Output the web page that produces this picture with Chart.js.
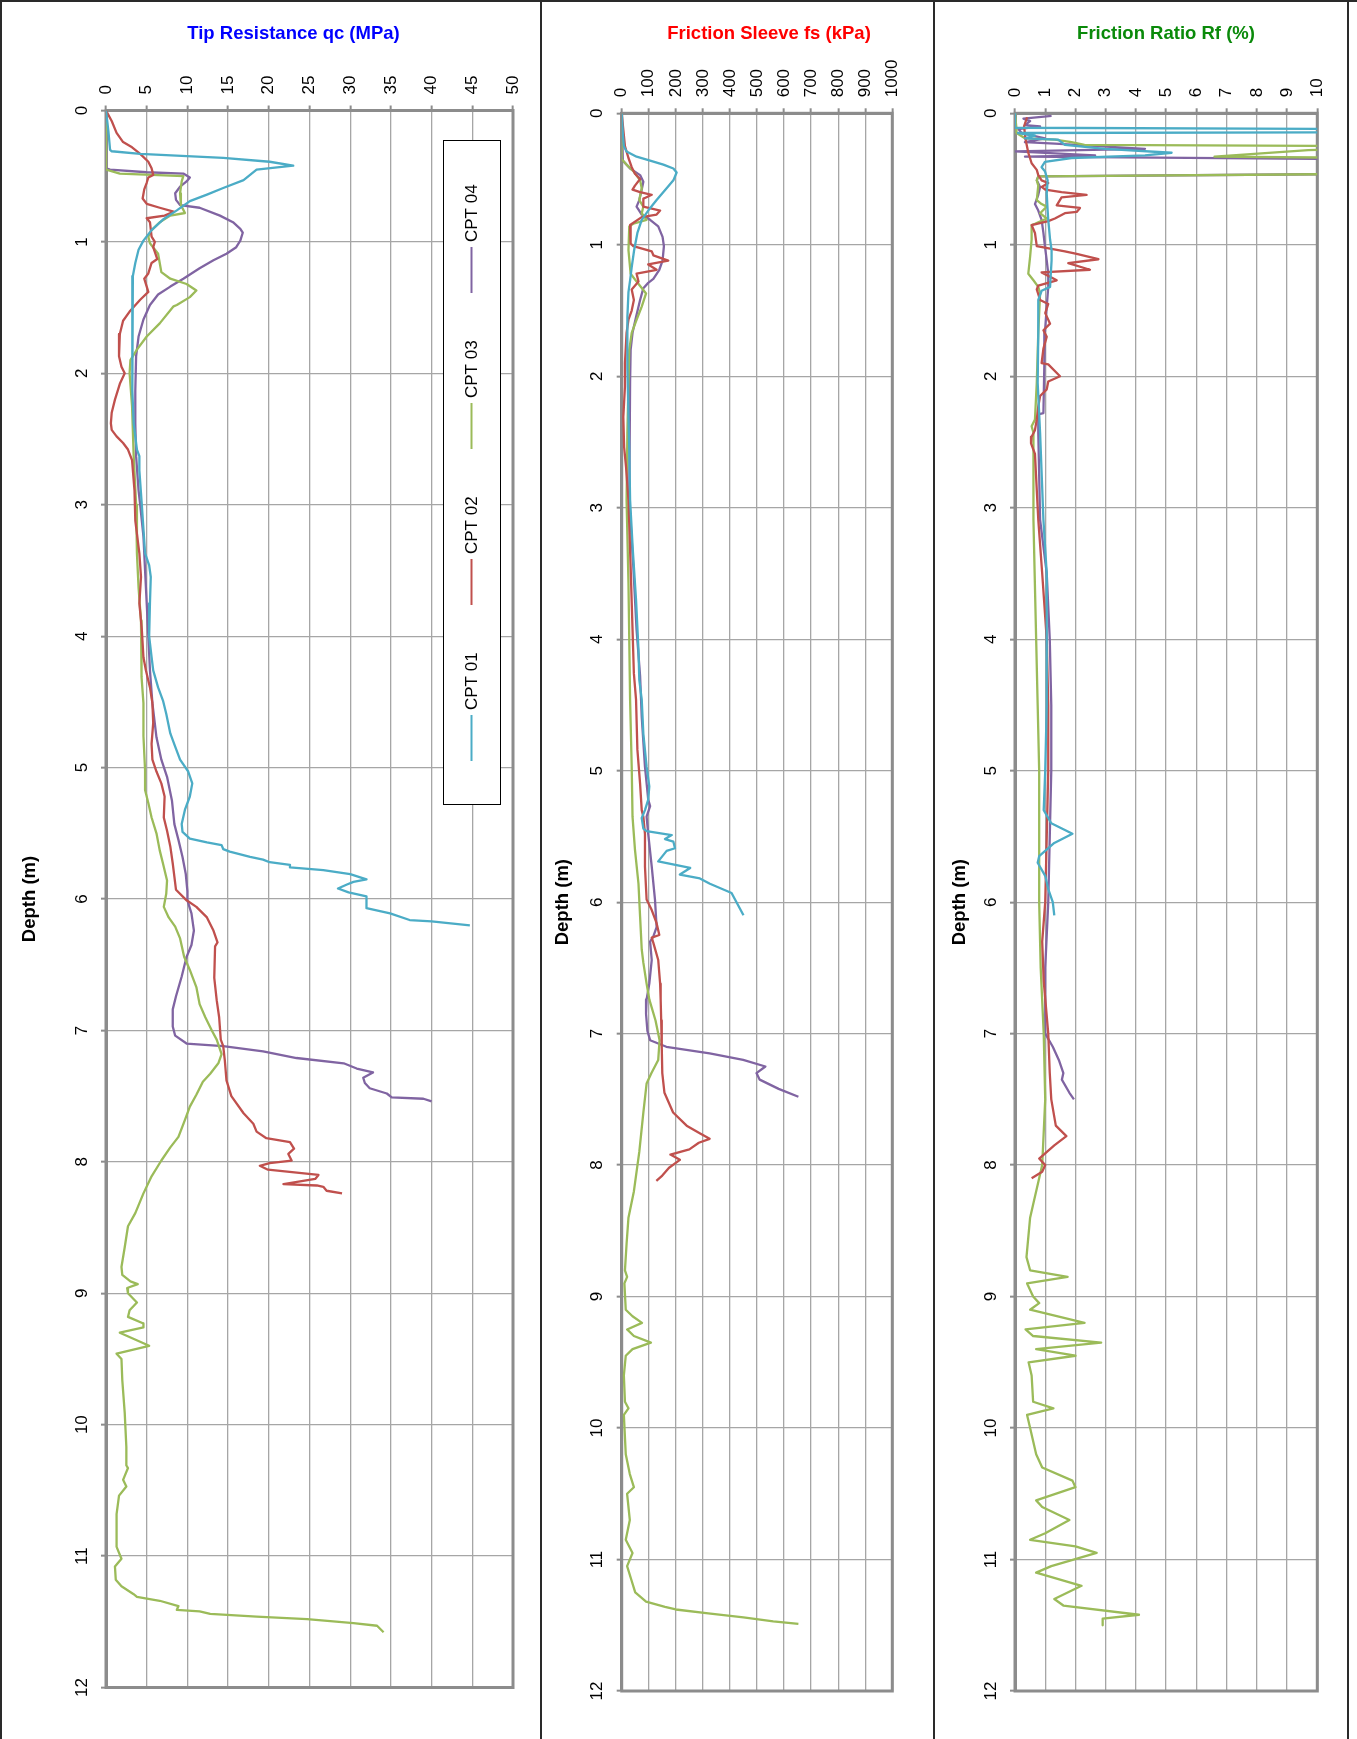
<!DOCTYPE html>
<html>
<head>
<meta charset="utf-8">
<title>CPT profiles</title>
<script src="https://cdn.jsdelivr.net/npm/chart.js@4.4.1/dist/chart.umd.min.js"></script>
<style>
  html, body { margin: 0; padding: 0; background: #fff; overflow: hidden; }
  #page { position: relative; width: 1357px; height: 1739px; overflow: hidden; background: #fff; }
  #page canvas { position: absolute; top: 0; }
  .rule { position: absolute; background: #2a2a2a; z-index: 5; }
</style>
</head>
<body>
<div id="page">
  <canvas id="qcChart"></canvas>
  <canvas id="fsChart"></canvas>
  <canvas id="rfChart"></canvas>
  <div class="rule" style="left:0;top:0;width:1357px;height:2px"></div>
  <div class="rule" style="left:0;top:0;width:2px;height:1739px"></div>
  <div class="rule" style="left:540px;top:0;width:2px;height:1739px"></div>
  <div class="rule" style="left:933px;top:0;width:2px;height:1739px"></div>
  <div class="rule" style="left:1347px;top:0;width:2px;height:1739px"></div>
</div>
<script>
// ---- data: [depth (m), value] pairs ----
const seriesNames = ['CPT 01', 'CPT 02', 'CPT 03', 'CPT 04'];
const seriesColors = ['#4bacc6', '#c0504d', '#9bbb59', '#8064a2'];

const depthTicks = [0, 1, 2, 3, 4, 5, 6, 7, 8, 9, 10, 11, 12];
const qcTicks = [0, 5, 10, 15, 20, 25, 30, 35, 40, 45, 50];
const fsTicks = [0, 100, 200, 300, 400, 500, 600, 700, 800, 900, 1000];
const rfTicks = [0, 1, 2, 3, 4, 5, 6, 7, 8, 9, 10];

// tip resistance qc (MPa)
const qc01 = [[0,0],[0.16,0.3],[0.3,0.5],[0.31,0.7],[0.33,4.2],[0.36,14.4],[0.39,20.1],[0.42,23.0],[0.45,18.5],[0.53,16.9],[0.59,14.4],[0.64,12.4],[0.69,10.3],[0.76,8.7],[0.83,7.0],[0.91,5.6],[0.99,4.6],[1.06,4.0],[1.16,3.6],[1.26,3.3],[1.37,3.2],[1.87,3.2],[2.13,3.3],[2.38,3.4],[2.58,3.8],[2.63,4.1],[2.74,4.1],[3.0,4.4],[3.37,4.8],[3.46,5.3],[3.55,5.5],[3.75,5.4],[4.0,5.3],[4.16,5.6],[4.26,5.8],[4.39,6.4],[4.49,7.0],[4.59,7.4],[4.74,7.9],[4.84,8.5],[4.94,9.1],[5.03,10.1],[5.12,10.6],[5.22,10.3],[5.32,9.7],[5.43,9.3],[5.49,9.4],[5.54,10.3],[5.57,12.4],[5.59,14.2],[5.62,14.4],[5.64,15.2],[5.68,17.7],[5.70,19.3],[5.72,20.1],[5.74,22.6],[5.76,22.6],[5.78,26.7],[5.81,30.0],[5.85,32.0],[5.87,30.4],[5.89,29.6],[5.92,28.5],[5.95,29.8],[5.98,32.0],[6.07,32.0],[6.11,34.9],[6.16,37.3],[6.17,40.0],[6.2,44.7]];
const qc02 = [[0,0],[0.08,0.7],[0.17,1.3],[0.24,2.1],[0.28,3.2],[0.33,4.2],[0.39,5.2],[0.44,5.6],[0.49,5.8],[0.51,5.2],[0.55,5.0],[0.6,4.7],[0.67,4.5],[0.71,5.0],[0.74,6.6],[0.77,8.3],[0.8,7.2],[0.82,5.0],[0.85,5.4],[0.96,5.6],[1.0,6.0],[1.04,5.8],[1.13,6.3],[1.16,5.6],[1.24,5.2],[1.28,4.7],[1.38,5.2],[1.44,4.2],[1.53,2.9],[1.6,2.1],[1.7,1.7],[1.87,1.6],[1.95,1.9],[2.0,2.3],[2.08,1.7],[2.2,1.1],[2.3,0.7],[2.38,0.6],[2.43,0.7],[2.48,1.3],[2.53,2.1],[2.58,2.7],[2.66,3.2],[2.89,3.5],[3.12,3.6],[3.37,4.1],[3.55,4.3],[3.75,4.1],[3.95,4.4],[4.16,4.6],[4.26,4.9],[4.39,5.4],[4.51,5.7],[4.66,5.8],[4.82,5.6],[4.94,5.7],[5.03,6.2],[5.12,6.8],[5.22,7.2],[5.38,7.1],[5.48,7.5],[5.60,7.9],[5.73,8.2],[5.83,8.4],[5.93,8.6],[6.01,9.9],[6.06,11.1],[6.14,12.4],[6.24,13.2],[6.33,13.7],[6.36,13.4],[6.6,13.3],[6.77,13.6],[6.9,13.9],[7.07,14.1],[7.12,14.4],[7.23,14.6],[7.38,14.8],[7.5,15.4],[7.63,16.9],[7.71,18.1],[7.77,18.5],[7.82,19.7],[7.85,22.6],[7.9,23.1],[7.94,22.4],[7.99,22.8],[8.01,20.1],[8.03,18.9],[8.06,19.9],[8.10,26.1],[8.13,25.7],[8.17,21.8],[8.18,25.9],[8.19,26.7],[8.22,27.1],[8.24,29.0]];
const qc03 = [[0,0],[0.45,0],[0.48,1.7],[0.5,9.5],[0.54,9.3],[0.63,9.1],[0.72,9.2],[0.78,9.7],[0.8,7.9],[0.85,6.6],[0.91,5.6],[0.96,5.2],[1.01,5.4],[1.09,6.4],[1.16,6.6],[1.23,6.8],[1.28,7.9],[1.32,9.9],[1.37,11.1],[1.42,10.3],[1.48,8.7],[1.49,8.3],[1.62,6.6],[1.72,5.0],[1.82,3.8],[1.9,3.0],[2.0,2.9],[2.25,3.2],[2.63,3.4],[3.0,3.7],[3.37,3.8],[3.63,4.0],[3.88,4.3],[4.06,4.4],[4.13,4.3],[4.31,4.4],[4.51,4.6],[4.76,4.6],[5.02,4.8],[5.17,4.8],[5.27,5.2],[5.38,5.6],[5.50,6.2],[5.63,6.6],[5.73,7.0],[5.86,7.5],[5.96,7.4],[6.06,7.1],[6.14,7.7],[6.21,8.5],[6.3,9.1],[6.44,9.6],[6.54,10.3],[6.67,11.1],[6.80,11.5],[6.9,12.2],[7.0,13.0],[7.07,13.6],[7.18,14.2],[7.25,13.8],[7.33,12.8],[7.39,11.9],[7.49,11.1],[7.58,10.3],[7.68,9.7],[7.81,8.9],[7.89,7.9],[7.99,6.8],[8.11,5.6],[8.24,4.6],[8.39,3.6],[8.49,2.7],[8.65,2.3],[8.80,1.9],[8.86,2.0],[8.91,3.0],[8.93,3.9],[8.96,2.6],[9.0,2.7],[9.07,3.8],[9.13,2.9],[9.18,2.7],[9.23,4.6],[9.26,4.6],[9.30,1.7],[9.40,5.3],[9.46,1.3],[9.50,1.9],[9.66,2.0],[9.91,2.3],[10.17,2.5],[10.31,2.5],[10.33,2.7],[10.42,2.1],[10.47,2.5],[10.54,1.6],[10.68,1.3],[10.93,1.3],[11.02,1.9],[11.08,1.1],[11.18,1.2],[11.23,1.9],[11.29,3.4],[11.31,3.8],[11.34,6.6],[11.38,8.9],[11.41,8.7],[11.42,11.5],[11.44,12.8],[11.46,18.5],[11.48,24.7],[11.51,30.4],[11.53,33.3],[11.58,34.1]];
const qc04 = [[0,0],[0.44,0],[0.45,0.5],[0.47,5.0],[0.48,9.5],[0.51,10.3],[0.54,9.9],[0.58,9.1],[0.63,8.5],[0.68,8.6],[0.72,9.1],[0.74,11.5],[0.80,14.0],[0.85,15.6],[0.90,16.5],[0.93,16.8],[0.99,16.5],[1.04,16.0],[1.09,14.8],[1.14,13.2],[1.20,11.5],[1.28,9.5],[1.34,7.9],[1.40,6.4],[1.48,5.4],[1.59,4.6],[1.72,4.0],[1.87,3.7],[2.13,3.6],[2.38,3.6],[2.63,3.7],[2.89,4.0],[3.0,4.2],[3.24,4.6],[3.5,4.8],[3.75,5.0],[4.0,5.2],[4.26,5.4],[4.51,5.7],[4.77,6.2],[4.94,6.8],[5.07,7.5],[5.25,8.1],[5.43,8.4],[5.55,8.9],[5.68,9.4],[5.81,9.8],[5.94,10.0],[6.01,10.0],[6.11,10.5],[6.24,10.8],[6.35,10.5],[6.44,9.9],[6.59,9.3],[6.74,8.6],[6.84,8.2],[6.97,8.2],[7.04,8.5],[7.10,9.9],[7.12,14.4],[7.16,19.3],[7.21,23.4],[7.25,29.2],[7.29,30.8],[7.32,32.8],[7.36,31.6],[7.40,31.8],[7.44,32.4],[7.48,34.5],[7.51,35.1],[7.52,39.0],[7.54,40.0]];

// friction sleeve fs (kPa)
const fs01 = [[0,0],[0.15,4],[0.25,8],[0.29,18],[0.33,55],[0.36,105],[0.39,154],[0.42,191],[0.45,203],[0.51,191],[0.57,166],[0.66,129],[0.74,98],[0.81,74],[0.91,58],[1.04,46],[1.17,37],[1.27,31],[1.36,25],[1.55,21],[1.93,21],[2.31,25],[2.56,28],[2.94,31],[3.32,41],[3.70,53],[4.08,62],[4.31,65],[4.46,74],[4.72,80],[4.97,92],[5.12,102],[5.22,98],[5.30,86],[5.36,74],[5.44,80],[5.46,92],[5.49,185],[5.52,160],[5.54,191],[5.59,197],[5.61,166],[5.69,135],[5.74,253],[5.79,215],[5.82,289],[5.86,326],[5.93,406],[6.10,450]];
const fs02 = [[0,0],[0.25,12],[0.34,25],[0.41,37],[0.46,49],[0.50,68],[0.55,49],[0.58,40],[0.60,68],[0.62,111],[0.65,80],[0.71,80],[0.74,142],[0.77,129],[0.79,74],[0.85,31],[0.99,33],[1.01,43],[1.05,111],[1.08,117],[1.12,172],[1.15,98],[1.19,129],[1.22,55],[1.28,62],[1.34,37],[1.42,45],[1.50,37],[1.57,25],[1.67,18],[1.90,12],[2.08,12],[2.31,6],[2.54,9],[2.69,16],[2.94,25],[3.45,33],[4.26,45],[4.46,53],[4.84,58],[5.10,68],[5.30,74],[5.35,80],[5.48,86],[5.73,86],[5.98,92],[6.06,111],[6.16,129],[6.25,139],[6.27,111],[6.31,117],[6.44,135],[6.62,142],[6.74,144],[6.9,146],[7.1,148],[7.3,150],[7.45,158],[7.6,190],[7.7,240],[7.76,290],[7.8,325],[7.83,285],[7.88,250],[7.92,180],[7.96,215],[8.02,175],[8.08,150],[8.12,128]];
const fs03 = [[0,0],[0.35,0],[0.39,18],[0.44,43],[0.51,68],[0.57,74],[0.66,65],[0.71,80],[0.76,74],[0.81,92],[0.84,43],[0.86,28],[1.04,25],[1.22,33],[1.28,55],[1.37,90],[1.47,74],[1.57,55],[1.67,37],[1.80,28],[2.05,25],[2.43,21],[2.94,18],[3.57,25],[4.46,31],[4.97,37],[5.35,40],[5.60,49],[5.86,62],[6.11,68],[6.36,74],[6.46,80],[6.62,92],[6.74,102],[6.9,125],[7.05,140],[7.2,135],[7.3,110],[7.38,92],[7.6,80],[7.9,65],[8.2,45],[8.4,25],[8.6,18],[8.8,12],[8.85,20],[8.9,10],[9.1,15],[9.15,40],[9.2,75],[9.25,20],[9.3,45],[9.35,108],[9.4,40],[9.45,15],[9.6,8],[9.8,12],[9.85,25],[9.9,8],[10.2,15],[10.35,30],[10.45,45],[10.5,20],[10.7,30],[10.85,15],[10.95,40],[11.05,20],[11.15,35],[11.25,50],[11.32,90],[11.36,160],[11.38,200],[11.41,320],[11.44,450],[11.47,560],[11.49,653]];
const fs04 = [[0,0],[0.36,4],[0.42,31],[0.47,68],[0.52,80],[0.58,74],[0.66,65],[0.71,55],[0.77,74],[0.81,105],[0.86,135],[0.94,151],[1.01,156],[1.12,151],[1.19,139],[1.26,117],[1.29,98],[1.33,80],[1.42,68],[1.55,53],[1.67,40],[1.80,33],[2.05,31],[2.94,28],[3.45,43],[3.93,55],[4.28,68],[4.59,74],[4.97,86],[5.22,98],[5.27,105],[5.35,92],[5.48,98],[5.73,111],[5.98,123],[6.19,129],[6.26,117],[6.30,105],[6.44,111],[6.62,102],[6.74,92],[6.85,90],[6.98,95],[7.05,105],[7.1,165],[7.15,325],[7.2,449],[7.25,531],[7.3,498],[7.35,510],[7.42,580],[7.48,653]];

// friction ratio Rf (%) - values above 10 run off the plot
const rf01 = [[0,0],[0.11,0],[0.12,12],[0.145,12],[0.15,0.1],[0.17,0.66],[0.19,0.33],[0.2,1.43],[0.24,1.65],[0.27,2.98],[0.30,5.18],[0.32,4.3],[0.34,1.87],[0.37,0.99],[0.41,0.88],[0.44,0.99],[0.51,1.08],[0.61,1.05],[0.74,1.08],[0.81,1.1],[0.96,1.16],[1.04,1.21],[1.12,1.21],[1.32,1.16],[1.35,0.88],[1.42,0.77],[1.67,0.77],[2.05,0.75],[2.43,0.83],[3.09,0.94],[3.5,1.05],[4.0,1.05],[4.5,1.05],[5.0,1.0],[5.3,0.95],[5.4,1.2],[5.48,1.9],[5.55,1.3],[5.65,0.8],[5.7,0.75],[5.8,1.0],[5.9,1.1],[6.0,1.25],[6.1,1.3]];
const rf02 = [[0.03,0.4],[0.1,0.3],[0.2,0.35],[0.3,0.44],[0.38,0.55],[0.43,0.72],[0.47,0.77],[0.51,0.88],[0.53,1.1],[0.56,0.88],[0.58,1.0],[0.6,1.54],[0.62,2.37],[0.64,1.54],[0.70,1.38],[0.72,2.15],[0.75,2.04],[0.76,1.65],[0.80,1.32],[0.82,1.1],[0.85,0.55],[0.91,0.66],[1.01,0.72],[1.05,1.65],[1.07,2.04],[1.11,2.76],[1.14,1.76],[1.19,2.48],[1.21,0.88],[1.27,1.38],[1.31,0.77],[1.34,0.72],[1.42,0.83],[1.45,1.1],[1.52,1.0],[1.60,1.16],[1.65,0.94],[1.70,1.05],[1.79,0.94],[1.90,0.88],[1.91,1.1],[2.0,1.49],[2.04,1.1],[2.1,1.05],[2.15,0.83],[2.23,0.77],[2.33,0.72],[2.41,0.66],[2.46,0.55],[2.51,0.53],[2.59,0.66],[3.09,0.77],[3.5,0.9],[4.0,1.05],[4.5,1.1],[5.0,1.1],[5.5,1.05],[6.0,1.0],[6.3,0.9],[6.6,0.95],[7.0,1.1],[7.3,1.15],[7.5,1.2],[7.7,1.35],[7.78,1.7],[7.85,1.3],[7.95,0.8],[8.0,1.0],[8.05,0.9],[8.1,0.55]];
const rf03 = [[0,0],[0.12,0.05],[0.15,0.05],[0.19,0.33],[0.2,1.32],[0.22,1.87],[0.24,2.3],[0.25,12],[0.27,12],[0.28,9.7],[0.33,6.6],[0.34,12],[0.46,12],[0.48,0.77],[0.51,0.72],[0.55,0.77],[0.66,0.72],[0.69,0.88],[0.71,1.05],[0.76,0.83],[0.80,1.05],[0.84,0.66],[0.85,0.55],[0.96,0.55],[1.09,0.5],[1.22,0.44],[1.27,0.61],[1.32,0.77],[1.37,0.83],[1.67,0.77],[2.05,0.72],[2.33,0.66],[2.38,0.55],[2.43,0.61],[3.09,0.61],[3.5,0.65],[4.0,0.7],[4.5,0.75],[5.0,0.8],[5.5,0.8],[6.0,0.8],[6.5,0.85],[7.0,0.95],[7.5,1.0],[8.0,0.9],[8.3,0.6],[8.4,0.5],[8.7,0.38],[8.8,0.5],[8.85,1.74],[8.9,0.4],[9.0,0.6],[9.05,0.8],[9.1,0.5],[9.2,2.3],[9.25,0.35],[9.3,0.6],[9.35,2.85],[9.4,0.7],[9.45,2.0],[9.5,0.45],[9.6,0.55],[9.8,0.6],[9.85,1.27],[9.9,0.4],[10.0,0.5],[10.2,0.7],[10.3,0.9],[10.4,1.9],[10.45,2.0],[10.55,0.7],[10.6,0.9],[10.7,1.8],[10.8,1.0],[10.85,0.5],[10.9,2.0],[10.95,2.7],[11.05,1.2],[11.1,0.7],[11.2,2.2],[11.3,1.3],[11.35,1.6],[11.42,4.1],[11.45,2.9],[11.5,2.9]];
const rf04 = [[0.02,1.21],[0.04,0.28],[0.06,0.5],[0.09,0.33],[0.1,0.83],[0.12,0.11],[0.15,0.22],[0.19,0.99],[0.22,0.33],[0.23,1.32],[0.27,4.3],[0.29,0],[0.32,2.65],[0.33,0.33],[0.35,12],[0.46,12],[0.48,0.77],[0.51,0.72],[0.56,0.83],[0.62,0.77],[0.69,0.66],[0.74,0.77],[0.81,0.88],[0.91,0.94],[1.01,0.99],[1.12,1.05],[1.22,1.1],[1.32,1.1],[1.47,1.05],[1.67,0.99],[1.92,0.97],[2.28,0.94],[2.29,0.77],[2.43,0.77],[3.09,0.83],[3.5,1.05],[4.0,1.15],[4.5,1.2],[5.0,1.2],[5.5,1.15],[6.0,1.1],[6.5,1.0],[7.0,1.0],[7.1,1.25],[7.2,1.45],[7.3,1.6],[7.35,1.55],[7.45,1.8],[7.5,1.95]];

// ---- chart building ----
Chart.defaults.font.family = '"Liberation Sans", Arial, sans-serif';
Chart.defaults.color = '#000';

const GRID = '#a6a6a6';
const AXIS = '#8c8c8c';
const PAGE_H = 1739;
const TICK_FONT = 17;

const plotFrame = {
  id: 'plotFrame',
  beforeDatasetsDraw(chart) {
    const { ctx, chartArea: a } = chart;
    ctx.save();
    ctx.strokeStyle = AXIS;
    ctx.lineWidth = 3;
    ctx.strokeRect(a.left, a.top, a.right - a.left, a.bottom - a.top);
    ctx.restore();
  }
};

// legend drawn rotated, as in the original sheet
const sideLegend = {
  id: 'sideLegend',
  afterDraw(chart) {
    const ctx = chart.ctx;
    const box = { left: 443, top: 140, right: 500, bottom: 804 };
    const cx = 471.5;
    ctx.save();
    ctx.fillStyle = '#fff';
    ctx.fillRect(box.left, box.top, box.right - box.left, box.bottom - box.top);
    ctx.strokeStyle = '#000';
    ctx.lineWidth = 1;
    ctx.strokeRect(box.left + 0.5, box.top + 0.5, box.right - box.left, box.bottom - box.top);
    chart.data.datasets.forEach((ds, i) => {
      const yb = 761 - i * 156;
      ctx.strokeStyle = ds.borderColor;
      ctx.lineWidth = 2;
      ctx.beginPath();
      ctx.moveTo(cx, yb);
      ctx.lineTo(cx, yb - 46);
      ctx.stroke();
      ctx.save();
      ctx.translate(cx, yb - 51);
      ctx.rotate(-Math.PI / 2);
      ctx.fillStyle = '#000';
      ctx.font = TICK_FONT + 'px "Liberation Sans", Arial, sans-serif';
      ctx.textAlign = 'left';
      ctx.textBaseline = 'middle';
      ctx.fillText(ds.label, 0, 1);
      ctx.restore();
    });
    ctx.restore();
  }
};

function buildPanel(id, p) {
  const canvas = document.getElementById(id);
  canvas.width = p.width;
  canvas.height = PAGE_H;
  canvas.style.left = p.x0 + 'px';
  canvas.style.width = p.width + 'px';
  canvas.style.height = PAGE_H + 'px';

  const datasets = p.series.map((pts, i) => ({
    label: seriesNames[i],
    data: pts.map(d => ({ x: d[1], y: d[0] })),
    borderColor: seriesColors[i],
    backgroundColor: seriesColors[i],
    borderWidth: 2.3,
    pointRadius: 0,
    showLine: true,
    tension: 0,
    borderJoinStyle: 'round'
  }));

  return new Chart(canvas, {
    type: 'scatter',
    data: { datasets },
    options: {
      responsive: false,
      animation: false,
      devicePixelRatio: 1,
      layout: { padding: { left: 0, right: 0, top: 0, bottom: PAGE_H - p.bottom } },
      plugins: {
        legend: { display: false },
        tooltip: { enabled: false },
        title: {
          display: true,
          text: p.title,
          color: p.titleColor,
          font: { size: 18.5, weight: 'bold' },
          padding: { top: 23, bottom: 0 }
        }
      },
      scales: {
        x: {
          type: 'linear',
          position: 'top',
          min: p.ticks[0],
          max: p.ticks[p.ticks.length - 1],
          afterBuildTicks: s => { s.ticks = p.ticks.map(v => ({ value: v })); },
          afterFit: s => { s.height = p.top - 45.2; },
          ticks: {
            minRotation: 90, maxRotation: 90,
            font: { size: TICK_FONT }, color: '#000', padding: 11,
            labelOffset: TICK_FONT * 1.2,
            callback: v => String(v)
          },
          grid: { color: GRID, lineWidth: 1.3, tickLength: 5, tickColor: AXIS, tickWidth: 2 },
          border: { color: AXIS, width: 3 }
        },
        y: {
          type: 'linear',
          position: 'left',
          reverse: true,
          min: 0,
          max: 12,
          afterBuildTicks: s => { s.ticks = depthTicks.map(v => ({ value: v })); },
          afterFit: s => { s.width = p.left - p.x0; },
          ticks: {
            minRotation: 90, maxRotation: 90, crossAlign: 'center',
            font: { size: TICK_FONT }, color: '#000', padding: 9.5,
            callback: v => String(v)
          },
          grid: { color: GRID, lineWidth: 1.3, tickLength: 5, tickColor: AXIS, tickWidth: 2 },
          border: { color: AXIS, width: 3 },
          title: { display: true, text: 'Depth (m)', color: '#000', font: { size: 18.5, weight: 'bold' }, padding: { top: p.yTitlePad, bottom: 0 } }
        },
        yRight: {
          type: 'linear',
          position: 'right',
          min: 0,
          max: 12,
          afterFit: s => { s.width = p.x0 + p.width - p.right; },
          ticks: { display: false },
          grid: { display: false, drawTicks: false },
          border: { display: false }
        }
      }
    },
    plugins: p.legend ? [plotFrame, sideLegend] : [plotFrame]
  });
}

buildPanel('qcChart', {
  x0: 0, width: 587, left: 106, right: 513, top: 110.5, bottom: 1687.5, yTitlePad: 19,
  title: 'Tip Resistance qc (MPa)', titleColor: '#0000ff',
  ticks: qcTicks, series: [qc01, qc02, qc03, qc04], legend: true
});
buildPanel('fsChart', {
  x0: 545, width: 448, left: 621.7, right: 892.3, top: 113.3, bottom: 1691, yTitlePad: 7,
  title: 'Friction Sleeve fs (kPa)', titleColor: '#ff0000',
  ticks: fsTicks, series: [fs01, fs02, fs03, fs04]
});
buildPanel('rfChart', {
  x0: 940, width: 452, left: 1015, right: 1317.3, top: 113.3, bottom: 1691, yTitlePad: 9,
  title: 'Friction Ratio Rf (%)', titleColor: '#0a8a0a',
  ticks: rfTicks, series: [rf01, rf02, rf03, rf04]
});
</script>
</body>
</html>
